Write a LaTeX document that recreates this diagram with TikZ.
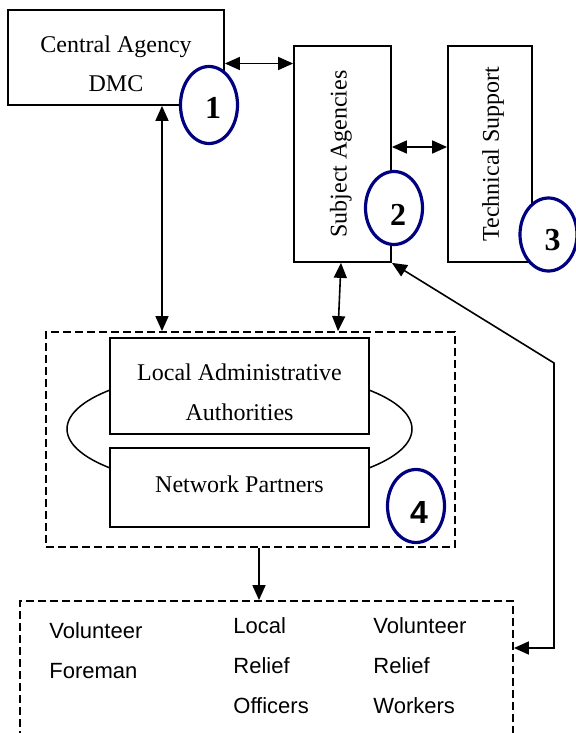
\documentclass[tikz,border=0pt]{standalone}
\usepackage{fontspec}
\setmainfont{Liberation Serif}
\newfontfamily\arialfont{Liberation Sans}
\usepackage{xcolor}
\usetikzlibrary{arrows.meta,positioning,shapes.geometric}
\definecolor{navyring}{RGB}{0,0,128}

\begin{document}
\begin{tikzpicture}[
  x=0.5pt, y=-0.5pt,
  >={Triangle[length=7.5pt,width=6.5pt]},
  box/.style={draw, line width=0.9pt, fill=white, inner sep=0pt},
  boxtext/.style={font=\fontsize{12}{20}\selectfont, align=center, anchor=base, inner sep=0pt},
  sidetext/.style={font=\fontsize{12}{14}\selectfont, rotate=90},
  numring/.style={ellipse, draw=navyring, line width=1.6pt, fill=white,
                  minimum width=28.5pt, minimum height=36.5pt, inner sep=0pt},
  numtext/.style={font=\fontsize{16}{16}\selectfont\bfseries},
  groupbox/.style={draw, line width=0.9pt, dash pattern=on 4pt off 2pt, inner sep=0pt},
  staffcol/.style={font=\arialfont\fontsize{11}{20}\selectfont, align=left,
                   anchor=base west, inner sep=0pt},
  link/.style={line width=0.8pt, <->},
]

\useasboundingbox (0,0) rectangle (576,733);
\clip (0,0) rectangle (576,733);

% === Agencies (top row) ===
\node[box, minimum width=108pt, minimum height=47.5pt] (central) at (116,57.5) {};
\node[boxtext] (centraltxt) at (116,92) {Central Agency\\DMC};

\node[box, minimum width=48.5pt, minimum height=108pt] (subject) at (342.5,154) {};
\node[sidetext] (subjecttxt) at (341,154) {Subject Agencies};

\node[box, minimum width=42pt, minimum height=108pt] (tech) at (490,154) {};
\node[sidetext] (techtxt) at (493,154) {Technical Support};

% === Local level (dashed group) ===
\node[groupbox, minimum width=204.5pt, minimum height=107.5pt] (group) at (250.5,439.5) {};
\draw[line width=0.75pt] (239.5,429) ellipse [x radius=86.25pt, y radius=29.5pt];

\node[box, minimum width=129.5pt, minimum height=48pt] (local) at (239.5,386) {};
\node[boxtext] (localtxt) at (239.5,420) {Local Administrative\\Authorities};

\node[box, minimum width=129.5pt, minimum height=39.5pt] (partners) at (239.5,487.5) {};
\node[boxtext] (partnerstxt) at (239.5,492) {Network Partners};

% === Field staff ===
\node[groupbox, minimum width=246.5pt, minimum height=72pt] (staff) at (266.5,673) {};
\node[staffcol] (foreman) at (49,678) {Volunteer\\Foreman};
\node[staffcol] (officers) at (233,713) {Local\\Relief\\Officers};
\node[staffcol] (workers) at (373,713) {Volunteer\\Relief\\Workers};

% === Links ===
\draw[link] ([yshift=-3pt]central.east) -- ([yshift=-3pt]central.east -| subject.west);
\draw[link] ([yshift=3.5pt]subject.east) -- ([yshift=3.5pt]subject.east -| tech.west);
\draw[link] ([xshift=23pt]central.south) -- ([xshift=23pt]central.south |- group.north);
\draw[link] ([xshift=-0.75pt]subject.south) -- ([xshift=43.75pt]group.north);
\coordinate (bend) at (554,363);
\draw[link] (subject.south east) -- (bend) |- ([yshift=12.5pt]staff.east);
\draw[line width=0.8pt, ->] ([xshift=4.25pt]group.south) -- ([xshift=4.25pt]group.south |- staff.north);

% === Numbered rings ===
\node[numring, minimum height=38.5pt] (ring1) at (209,105) {};
\node[numtext] (num1) at (213,108) {1};
\node[numring] (ring2) at (394,208) {};
\node[numtext] (num2) at (398,215) {2};
\node[numring] (ring3) at (548.5,234.5) {};
\node[numtext] (num3) at (552.5,240) {3};
\node[numring] (ring4) at (416,506) {};
\node[numtext, font=\arialfont\fontsize{16}{16}\selectfont\bfseries] (num4) at (419,512) {4};

\end{tikzpicture}
\end{document}
